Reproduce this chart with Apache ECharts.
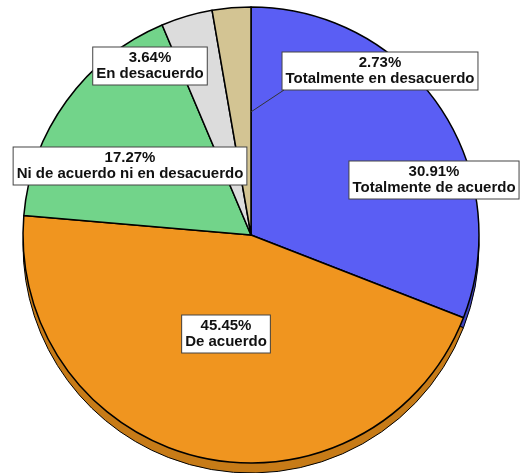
<!DOCTYPE html>
<html>
<head>
<meta charset="utf-8">
<script src="https://cdn.jsdelivr.net/npm/echarts@6/dist/echarts.min.js"></script>
<style>
  html, body { margin: 0; padding: 0; background: #fff; }
  #chart { width: 532px; height: 473px; }
</style>
</head>
<body>
<div id="chart"></div>
<script>
const categories = ['Totalmente de acuerdo', 'De acuerdo', 'Ni de acuerdo ni en desacuerdo', 'En desacuerdo', 'Totalmente en desacuerdo']
const percents = [30.91, 45.45, 17.27, 3.64, 2.73]

const topColors = ['#5a5ef4', '#f0951f', '#72d48a', '#dcdcdc', '#d3c493']
const sideColors = ['#4145bd', '#c77b17', '#52a868', '#aaaaaa', '#a69a6e']
// where each label box sits (centre, px)
const labelPos = [[434, 180], [226, 334], [130, 166], [150, 66], [380, 71]]

const myChart = echarts.init(document.getElementById('chart'))

const cx = 251, cy = 235, r = 228

// leader line for the small tan slice: from its 12 o'clock edge to the box corner
const tanLabel = labelPos[4]
const leader = {
  type: 'line',
  z: 10,
  shape: { x1: cx, y1: cy - r * 0.54, x2: tanLabel[0] - 96, y2: tanLabel[1] + 19 },
  style: { stroke: '#333', lineWidth: 1 },
  silent: true
}

const option = {
  animation: false,
  graphic: [leader],
  series: [
    {
      // side of the 3D disc
      type: 'pie',
      silent: true,
      z: 1,
      center: [cx, cy + 10],
      radius: r,
      startAngle: 90,
      label: { show: false },
      labelLine: { show: false },
      itemStyle: { borderColor: '#000', borderWidth: 1 },
      data: categories.map((name, i) => ({
        name, value: percents[i], itemStyle: { color: sideColors[i] }
      }))
    },
    {
      type: 'pie',
      z: 2,
      center: [cx, cy],
      radius: r,
      startAngle: 90,
      avoidLabelOverlap: false,
      itemStyle: { borderColor: '#000', borderWidth: 1.5 },
      label: {
        show: true,
        position: 'inside',
        formatter: p => p.value.toFixed(2) + '%\n' + p.name,
        fontFamily: 'Liberation Sans, Arial, sans-serif',
        fontSize: 15,
        fontWeight: 'bold',
        lineHeight: 16,
        color: '#111',
        align: 'center',
        backgroundColor: '#fff',
        borderColor: '#444',
        borderWidth: 1,
        padding: [3, 3, 2, 3]
      },
      labelLine: { show: false },
      labelLayout: p => ({
        x: labelPos[p.dataIndex][0],
        y: labelPos[p.dataIndex][1],
        align: 'center',
        verticalAlign: 'middle'
      }),
      data: categories.map((name, i) => ({
        name, value: percents[i], itemStyle: { color: topColors[i] }
      }))
    }
  ]
}
myChart.setOption(option)
</script>
</body>
</html>
